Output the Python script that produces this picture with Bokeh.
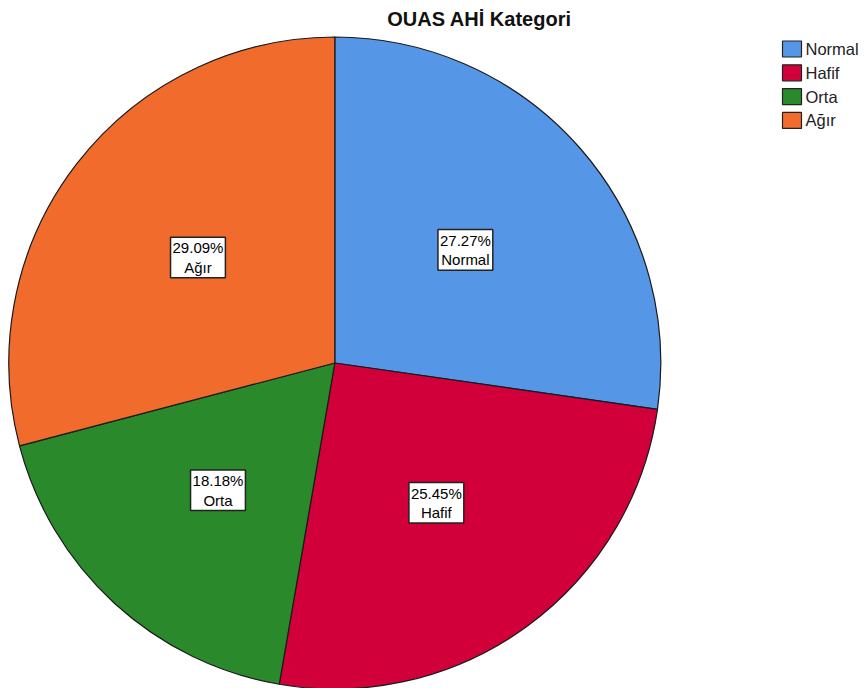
import math
from bokeh.plotting import figure
from bokeh.models import ColumnDataSource, Range1d, Label
from bokeh.core.properties import value
from bokeh.embed import file_html
from bokeh.resources import INLINE

# ---- data ----
title_text = "OUAS AHİ Kategori"
categories = ["Normal", "Hafif", "Orta", "Ağır"]
percents = [27.27, 25.45, 18.18, 29.09]
colors = ["#5596E6", "#D2003A", "#2A892A", "#F06B2C"]

# ---- layout (pixel space, y measured up from bottom) ----
W, H = 867, 688
cx, cy_px, R = 334.3, 362.5, 326.0
cy = H - cy_px
label_frac = 0.53

total = sum(percents)
starts, ends, lx, ly, labels = [], [], [], [], []
cum = 0.0
for c, pct in zip(categories, percents):
    a0 = cum / total * 2 * math.pi
    cum += pct
    a1 = cum / total * 2 * math.pi
    # clockwise from 12 o'clock -> bokeh anticlockwise from +x
    starts.append(math.pi / 2 - a1)
    ends.append(math.pi / 2 - a0)
    mid = (a0 + a1) / 2
    lx.append(cx + label_frac * R * math.sin(mid))
    ly.append(cy + label_frac * R * math.cos(mid))
    labels.append(f"{pct:.2f}%\n{c}")

src = ColumnDataSource(dict(start=starts, end=ends, color=colors, cat=categories,
                            lx=lx, ly=ly, label=labels))

p = figure(width=W, height=H, x_range=Range1d(0, W), y_range=Range1d(0, H),
           output_backend="svg", toolbar_location=None, min_border=0,
           background_fill_color="white", border_fill_color="white")
p.axis.visible = False
p.grid.visible = False
p.outline_line_color = None

p.wedge(x=cx, y=cy, radius=R, start_angle="start", end_angle="end",
        direction="anticlock", fill_color="color", line_color="#1a1a1a",
        line_width=1.2, source=src)

p.text(x="lx", y="ly", text="label", source=src, text_align="center",
       text_baseline="middle", text_font=value("Liberation Sans"),
       text_font_size="15px", text_color="black", text_line_height=1.15,
       background_fill_color="white", border_line_color="#222222",
       border_line_width=1.5, padding=2)

# legend
leg_y = [H - 48.5 - i * 23.8 for i in range(len(categories))]
leg_src = ColumnDataSource(dict(x=[791.5] * len(categories), y=leg_y,
                                tx=[805] * len(categories), color=colors, cat=categories))
p.rect(x="x", y="y", width=19, height=16, fill_color="color",
       line_color="#222222", line_width=1.2, source=leg_src)
p.text(x="tx", y="y", text="cat", source=leg_src, text_align="left",
       text_baseline="middle", text_font=value("Liberation Sans"),
       text_font_size="16.5px", text_color="#222222")

p.add_layout(Label(x=479, y=H - 18.5, text=title_text, text_align="center",
                   text_baseline="middle", text_font="Liberation Sans",
                   text_font_style="bold", text_font_size="20px",
                   text_color="#111111"))

open("out.html", "w").write(file_html(p, INLINE))
